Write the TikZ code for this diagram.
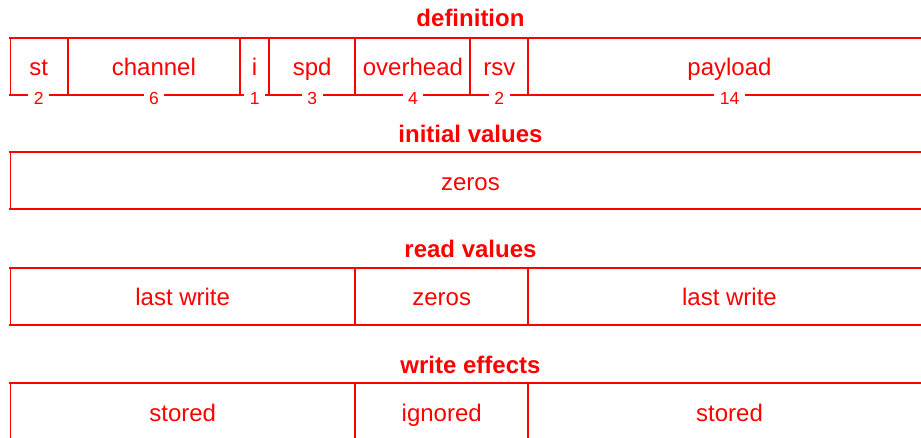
\documentclass[tikz,border=0pt]{standalone}
\usepackage{fontspec}
\setmainfont{Liberation Sans}
\usetikzlibrary{positioning}
\definecolor{RegRed}{RGB}{255,0,0}
\tikzset{
  regtitle/.style={text=RegRed,font=\bfseries\fontsize{24}{28}\selectfont,anchor=base},
  fieldtext/.style={text=RegRed,font=\fontsize{24}{28}\selectfont,anchor=base},
  bitcount/.style={text=RegRed,font=\fontsize{17.5}{20}\selectfont,fill=white,inner xsep=5.5pt,inner ysep=0pt},
  regline/.style={draw=RegRed,line width=2pt},
  edgeline/.style={draw=RegRed,line width=1pt}
}

\begin{document}
\begin{tikzpicture}[x=28.78pt,y=-1pt]
\useasboundingbox (-10pt,0) rectangle (911pt,438);
% field layout, one x unit per bit
\node[regtitle](deftitle) at (16,27){definition};
\draw[regline](-0.03,38)--(32,38);
\draw[regline](-0.03,95.5)--(32,95.5);
\draw[edgeline](0,38)--(0,95.5);
\foreach \lo/\hi/\fname/\nbits [count=\i] in {0/2/st/2,2/8/channel/6,8/9/i/1,9/12/spd/3,12/16/overhead/4,16/18/rsv/2,18/32/payload/14}{
  \draw[regline](\hi,38)--(\hi,95.5);
  \node[fieldtext](def\i) at ({(\lo+\hi)/2},76){\fname};
  \node[bitcount](bits\i) at ({(\lo+\hi)/2},98){\nbits};
}
% reset value
\node[regtitle](inittitle) at (16,143){initial values};
\draw[regline](-0.03,152.5)--(32,152.5);
\draw[regline](-0.03,209.5)--(32,209.5);
\draw[edgeline](0,152.5)--(0,209.5);
\draw[regline](32,152.5)--(32,209.5);
\node[fieldtext](init1) at (16,191){zeros};
% what a read returns
\node[regtitle](readtitle) at (16,258){read values};
\draw[regline](-0.03,268)--(32,268);
\draw[regline](-0.03,325.5)--(32,325.5);
\draw[edgeline](0,268)--(0,325.5);
\foreach \lo/\hi/\fname [count=\i] in {0/12/last write,12/18/zeros,18/32/last write}{
  \draw[regline](\hi,268)--(\hi,325.5);
  \node[fieldtext](read\i) at ({(\lo+\hi)/2},306){\fname};
}
% what a write does
\node[regtitle](writetitle) at (16,373){write effects};
\draw[regline](-0.03,383)--(32,383);
\draw[regline](-0.03,440.5)--(32,440.5);
\draw[edgeline](0,383)--(0,440.5);
\foreach \lo/\hi/\fname [count=\i] in {0/12/stored,12/18/ignored,18/32/stored}{
  \draw[regline](\hi,383)--(\hi,440.5);
  \node[fieldtext](write\i) at ({(\lo+\hi)/2},421.5){\fname};
}
\end{tikzpicture}
\end{document}
